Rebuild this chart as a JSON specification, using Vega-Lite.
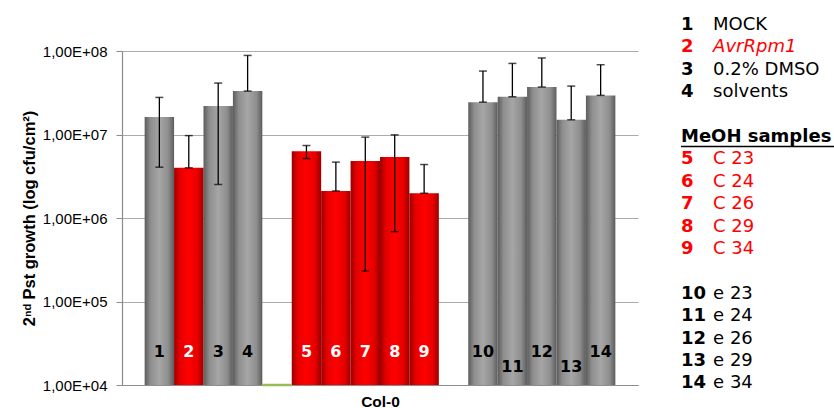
{
  "$schema": "https://vega.github.io/schema/vega-lite/v6.json",
  "padding": {"left": 21, "top": 16, "right": 0, "bottom": 0},
  "config": {"font": "Liberation Sans", "view": {"stroke": null}},
  "spacing": 42,
  "resolve": {"scale": {"x": "independent", "y": "independent", "color": "independent"}},
  "hconcat": [
    {
      "width": 516,
      "height": 334,
      "data": {"values": [
        {"slot": "1", "grp": "control", "value": 16200000, "lo": 4060000, "hi": 27800000},
        {"slot": "2", "grp": "positive", "value": 3990000, "lo": 3990000, "hi": 9700000},
        {"slot": "3", "grp": "control", "value": 21900000, "lo": 2520000, "hi": 41300000},
        {"slot": "4", "grp": "control", "value": 33100000, "lo": 33100000, "hi": 88500000},
        {"slot": "g1", "grp": "empty"},
        {"slot": "5", "grp": "meoh", "value": 6320000, "lo": 5150000, "hi": 7380000},
        {"slot": "6", "grp": "meoh", "value": 2110000, "lo": 2110000, "hi": 4670000},
        {"slot": "7", "grp": "meoh", "value": 4800000, "lo": 232000, "hi": 9300000},
        {"slot": "8", "grp": "meoh", "value": 5360000, "lo": 687000, "hi": 9900000},
        {"slot": "9", "grp": "meoh", "value": 1980000, "lo": 1980000, "hi": 4370000},
        {"slot": "10", "grp": "extract", "value": 24400000, "lo": 24400000, "hi": 57500000},
        {"slot": "11", "grp": "extract", "value": 28300000, "lo": 28300000, "hi": 71000000},
        {"slot": "12", "grp": "extract", "value": 37000000, "lo": 37000000, "hi": 82500000},
        {"slot": "13", "grp": "extract", "value": 15000000, "lo": 15000000, "hi": 38000000},
        {"slot": "14", "grp": "extract", "value": 29400000, "lo": 29400000, "hi": 68500000}
      ]},
      "encoding": {
        "x": {
          "field": "slot", "type": "nominal",
          "scale": {"domain": ["1","2","3","4","g1","5","6","7","8","9","g2","10","11","12","13","14"], "paddingInner": 0, "paddingOuter": 0.77},
          "axis": {"title": "Col-0", "titleFont": "Liberation Sans", "titleFontSize": 15.5, "titleFontWeight": "bold", "titleColor": "#000", "labels": false, "ticks": false, "domainColor": "#8c8c8c", "domainWidth": 1.2, "titlePadding": 9, "grid": false}
        }
      },
      "layer": [
        {
          "transform": [{"filter": "datum.grp === 'control' || datum.grp === 'extract'"}],
          "mark": {"type": "bar", "color": {"gradient": "linear", "x1": 0, "y1": 0, "x2": 1, "y2": 0, "stops": [{"offset": 0, "color": "#5c5c5c"}, {"offset": 0.2, "color": "#8e8e8e"}, {"offset": 0.5, "color": "#a6a6a6"}, {"offset": 0.8, "color": "#8e8e8e"}, {"offset": 1, "color": "#5c5c5c"}]}},
          "encoding": {
            "y": {"field": "value", "type": "quantitative",
              "scale": {"type": "log", "domain": [10000, 100000000], "nice": false},
              "axis": {"values": [10000, 100000, 1000000, 10000000, 100000000], "labelExpr": "'1,00E+0' + round(log(datum.value)/LN10)", "labelFont": "Liberation Sans", "labelFontSize": 15, "labelColor": "#000", "labelPadding": 9, "tickSize": 6, "tickColor": "#8c8c8c", "domainColor": "#8c8c8c", "domainWidth": 1.2, "gridColor": "#ababab", "gridWidth": 1.2,
                "title": "2ⁿᵈ Pst growth (log cfu/cm²)", "titleFont": "Liberation Sans", "titleFontSize": 16.5, "titleFontWeight": "bold", "titleColor": "#000", "titlePadding": 5}},
            "y2": {"datum": 10000}
          }
        },
        {
          "transform": [{"filter": "datum.grp === 'positive' || datum.grp === 'meoh'"}],
          "mark": {"type": "bar", "color": {"gradient": "linear", "x1": 0, "y1": 0, "x2": 1, "y2": 0, "stops": [{"offset": 0, "color": "#9a0000"}, {"offset": 0.2, "color": "#e60000"}, {"offset": 0.5, "color": "#ff0000"}, {"offset": 0.8, "color": "#e60000"}, {"offset": 1, "color": "#9a0000"}]}},
          "encoding": {
            "y": {"field": "value", "type": "quantitative"},
            "y2": {"datum": 10000}
          }
        },
        {
          "transform": [{"filter": "datum.grp === 'empty'"}],
          "mark": {"type": "bar", "fill": null, "stroke": "#9bbb59", "strokeWidth": 2.5},
          "encoding": {
            "y": {"datum": 10000},
            "y2": {"datum": 10000}
          }
        },
        {
          "transform": [{"filter": "isValid(datum.value)"}],
          "mark": {"type": "rule", "color": "#000", "strokeWidth": 1.3},
          "encoding": {
            "y": {"field": "lo", "type": "quantitative"},
            "y2": {"field": "hi"}
          }
        },
        {
          "transform": [{"filter": "isValid(datum.value)"}],
          "mark": {"type": "tick", "color": "#000", "size": 8, "thickness": 1.5},
          "encoding": {"y": {"field": "hi", "type": "quantitative"}}
        },
        {
          "transform": [{"filter": "isValid(datum.value)"}],
          "mark": {"type": "tick", "color": "#000", "size": 8, "thickness": 1.5},
          "encoding": {"y": {"field": "lo", "type": "quantitative"}}
        },
        {
          "transform": [{"filter": "isValid(datum.value) && datum.slot !== '11' && datum.slot !== '13'"}],
          "mark": {"type": "text", "font": "DejaVu Sans", "fontWeight": "bold", "fontSize": 16, "baseline": "middle"},
          "encoding": {
            "y": {"datum": 25000},
            "text": {"field": "slot"},
            "color": {"field": "grp", "type": "nominal", "scale": {"domain": ["control", "positive", "meoh", "extract"], "range": ["#000000", "#ffffff", "#ffffff", "#000000"]}, "legend": null}
          }
        },
        {
          "transform": [{"filter": "datum.slot === '11' || datum.slot === '13'"}],
          "mark": {"type": "text", "font": "DejaVu Sans", "fontWeight": "bold", "fontSize": 16, "baseline": "middle", "color": "#000"},
          "encoding": {
            "y": {"datum": 16500},
            "text": {"field": "slot"}
          }
        }
      ]
    },
    {
      "width": 154,
      "height": 334,
      "data": {"values": [
        {"row": 0, "num": "1", "label": "MOCK", "grp": "control"},
        {"row": 1, "num": "2", "label": "AvrRpm1", "grp": "positive"},
        {"row": 2, "num": "3", "label": "0.2% DMSO", "grp": "control"},
        {"row": 3, "num": "4", "label": "solvents", "grp": "control"},
        {"row": 5, "num": "", "label": "MeOH samples", "grp": "header"},
        {"row": 6, "num": "5", "label": "C 23", "grp": "meoh"},
        {"row": 7, "num": "6", "label": "C 24", "grp": "meoh"},
        {"row": 8, "num": "7", "label": "C 26", "grp": "meoh"},
        {"row": 9, "num": "8", "label": "C 29", "grp": "meoh"},
        {"row": 10, "num": "9", "label": "C 34", "grp": "meoh"},
        {"row": 12, "num": "10", "label": "e 23", "grp": "extract"},
        {"row": 13, "num": "11", "label": "e 24", "grp": "extract"},
        {"row": 14, "num": "12", "label": "e 26", "grp": "extract"},
        {"row": 15, "num": "13", "label": "e 29", "grp": "extract"},
        {"row": 16, "num": "14", "label": "e 34", "grp": "extract"}
      ]},
      "encoding": {
        "y": {"field": "row", "type": "quantitative", "scale": {"domain": [1.158, 16.076], "reverse": true, "nice": false, "zero": false}, "axis": null},
        "color": {"field": "grp", "type": "nominal", "scale": {"domain": ["control", "positive", "meoh", "extract", "header"], "range": ["#000000", "#ff0000", "#ff0000", "#000000", "#000000"]}, "legend": null}
      },
      "layer": [
        {
          "transform": [{"filter": "datum.grp !== 'header'"}],
          "mark": {"type": "text", "font": "DejaVu Sans", "fontWeight": "bold", "fontSize": 18, "align": "left", "baseline": "middle"},
          "encoding": {
            "x": {"datum": 0, "type": "quantitative", "scale": {"domain": [0, 4.8], "nice": false, "zero": false}, "axis": null},
            "text": {"field": "num"}
          }
        },
        {
          "transform": [{"filter": "datum.grp !== 'header' && datum.num !== '2'"}],
          "mark": {"type": "text", "font": "DejaVu Sans", "fontSize": 18, "align": "left", "baseline": "middle"},
          "encoding": {
            "x": {"datum": 1, "type": "quantitative"},
            "text": {"field": "label"}
          }
        },
        {
          "transform": [{"filter": "datum.num === '2'"}],
          "mark": {"type": "text", "font": "DejaVu Sans", "fontStyle": "italic", "fontSize": 18, "align": "left", "baseline": "middle"},
          "encoding": {
            "x": {"datum": 1, "type": "quantitative"},
            "text": {"field": "label"}
          }
        },
        {
          "transform": [{"filter": "datum.grp === 'header'"}],
          "mark": {"type": "text", "font": "DejaVu Sans", "fontWeight": "bold", "fontSize": 18, "align": "left", "baseline": "middle"},
          "encoding": {
            "x": {"datum": 0, "type": "quantitative"},
            "text": {"field": "label"}
          }
        },
        {
          "transform": [{"filter": "datum.grp === 'header'"}],
          "mark": {"type": "rule", "color": "#000", "strokeWidth": 1.5},
          "encoding": {
            "x": {"datum": 0, "type": "quantitative"},
            "x2": {"datum": 4.77},
            "y": {"datum": 5.42, "type": "quantitative"},
            "color": {"value": "#000"}
          }
        }
      ]
    }
  ]
}
